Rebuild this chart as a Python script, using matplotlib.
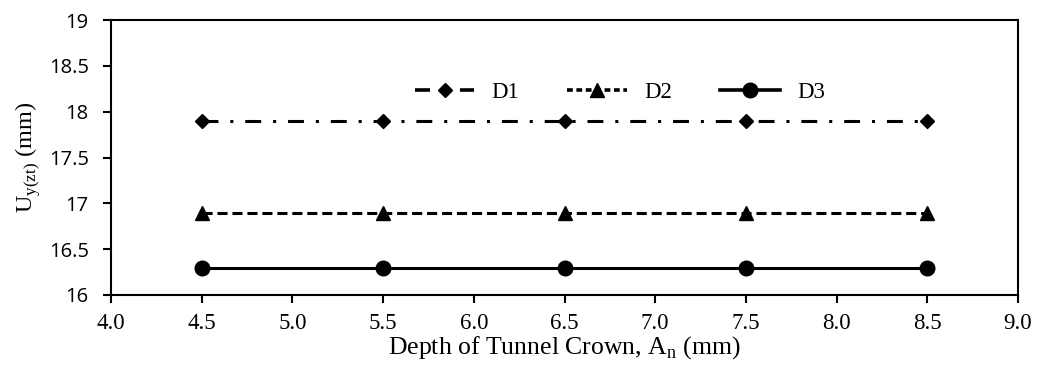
import matplotlib
matplotlib.use("Agg")
import matplotlib.pyplot as plt
from matplotlib.lines import Line2D

# Crown depth values and crown settlement for each tunnel diameter case
depth = [4.5, 5.5, 6.5, 7.5, 8.5]
d1 = [17.9, 17.9, 17.9, 17.9, 17.9]
d2 = [16.9, 16.9, 16.9, 16.9, 16.9]
d3 = [16.3, 16.3, 16.3, 16.3, 16.3]
series_names = ["D1", "D2", "D3"]
x_ticks = [4.0, 4.5, 5.0, 5.5, 6.0, 6.5, 7.0, 7.5, 8.0, 8.5, 9.0]
y_ticks = [16, 16.5, 17, 17.5, 18, 18.5, 19]

serif = "Liberation Serif"
sans = "Open Sans"

fig = plt.figure(figsize=(10.42, 3.72), dpi=100)
ax = fig.add_axes([0.1065, 0.207, 0.8705, 0.739])

lw = 2.2
ax.plot(depth, d1, color="black", lw=lw, linestyle=(0, (5.2, 3.9, 1.0, 3.9)),
        marker="D", markersize=7, zorder=3)
ax.plot(depth, d2, color="black", lw=lw, linestyle=(0, (3.3, 1.6)),
        marker="^", markersize=10.5, zorder=3)
ax.plot(depth, d3, color="black", lw=lw, linestyle="-",
        marker="o", markersize=10.5, zorder=3)

ax.set_xlim(4.0, 9.0)
ax.set_ylim(16, 19)
ax.set_xticks(x_ticks)
ax.set_xticklabels([f"{v:.1f}" for v in x_ticks], fontfamily=serif, fontsize=16.5)
ax.set_yticks(y_ticks)
ax.set_yticklabels([f"{v:g}" for v in y_ticks], fontfamily=sans, fontsize=14.5)
ax.tick_params(axis="both", direction="out", length=6, width=1.5)
ax.tick_params(axis="x", pad=7)
ax.tick_params(axis="y", pad=10)
for sp in ax.spines.values():
    sp.set_linewidth(1.5)

ax.set_xlabel(r"Depth of Tunnel Crown, A$_\mathregular{n}$ (mm)",
              fontfamily=serif, fontsize=18.5, labelpad=0)
ax.set_ylabel(r"U$_\mathregular{y(zt)}$ (mm)", fontfamily=serif, fontsize=17.5,
              labelpad=4)

# Legend handles drawn with plain dashes and solid lines
handles = [
    Line2D([], [], color="black", lw=2.6, linestyle=(0, (4.15, 8.3)), marker="D", markersize=7),
    Line2D([], [], color="black", lw=2.6, linestyle=(0, (1.6, 1.0)), marker="^", markersize=10),
    Line2D([], [], color="black", lw=2.6, linestyle="-", marker="o", markersize=10.5),
]
ax.legend(handles, series_names, loc="center left", bbox_to_anchor=(0.335, 0.735),
          ncol=3, frameon=False, handlelength=2.6, handletextpad=0.75,
          columnspacing=2.1, borderpad=0, borderaxespad=0,
          prop={"family": serif, "size": 16.5})

fig.savefig("out.png", dpi=100)
